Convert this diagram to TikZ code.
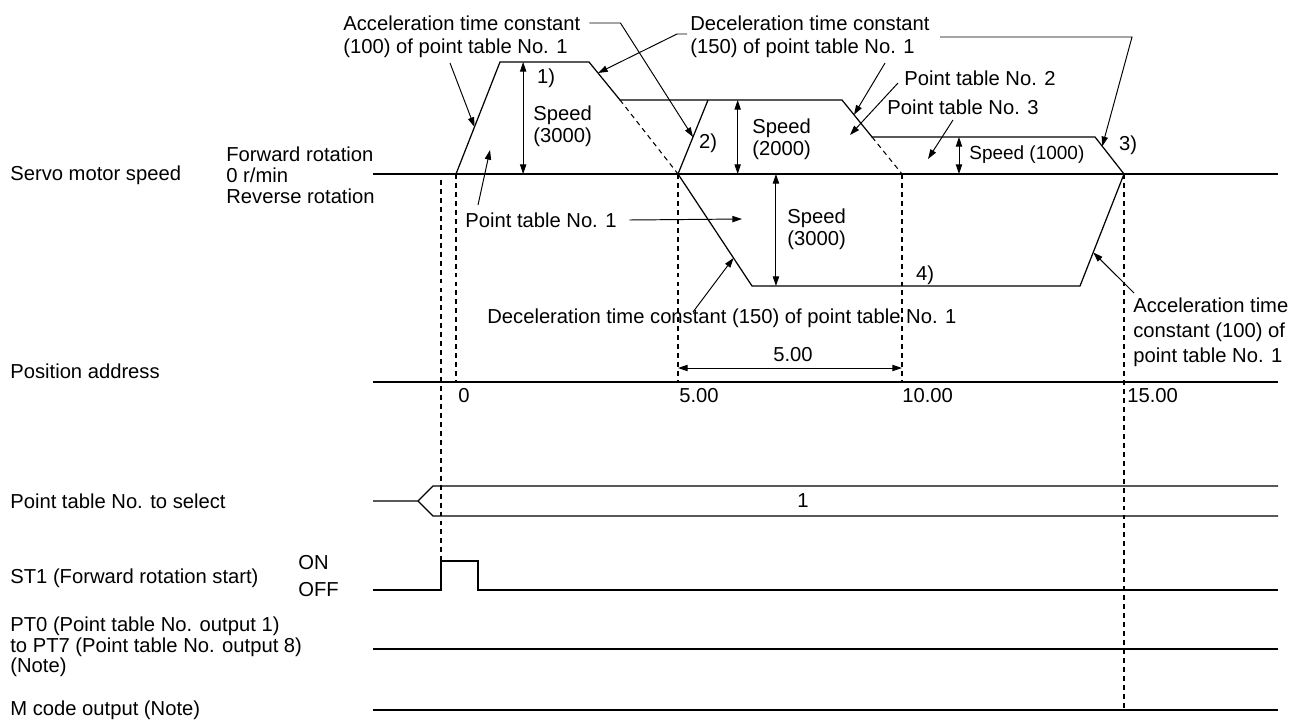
\documentclass[tikz,border=0pt]{standalone}
\usepackage{fontspec}
\setmainfont{Liberation Sans}
\usetikzlibrary{arrows.meta, calc}

\begin{document}
\begin{tikzpicture}[x=0.02cm, y=-0.02cm,
  every node/.style={inner sep=0pt, font=\fontsize{11.5}{14.2}\selectfont},
  wave/.style={line width=0.7pt},
  proj/.style={line width=0.6pt, dash pattern=on 2.8pt off 2.3pt},
  lead/.style={line width=0.55pt, -{Triangle[length=5.5pt, width=3.6pt]}},
  span/.style={line width=0.55pt, {Triangle[length=5.5pt, width=3.6pt]}-{Triangle[length=5.5pt, width=3.6pt]}},
  txt/.style={anchor=west, align=left}]
  \useasboundingbox (0,0) rectangle (1293,720);

  % Servo motor speed
  \coordinate (z0) at (373,174);  \coordinate (z1) at (1278,174);
  \coordinate (a0) at (456,174);  \coordinate (a1) at (500,62);
  \coordinate (a2) at (589,62);   \coordinate (a3) at (620,100);
  \coordinate (b0) at (678,174);  \coordinate (b1) at (708,100);
  \coordinate (c0) at (842,100);  \coordinate (c1) at (872,137);
  \coordinate (c2) at (1095,137); \coordinate (c3) at (1124,174);
  \coordinate (d2) at (902,174);
  \coordinate (r1) at (752,286);  \coordinate (r2) at (1080,286);
  \draw[wave] (z0) -- (z1);
  \draw[wave] (a0) -- (a1) -- (a2) -- (a3) -- (c0) -- (c1) -- (c2) -- (c3);
  \draw[wave] (b0) -- (b1);
  \draw[wave] (b0) -- (r1) -- (r2) -- (c3);
  \draw[proj] (a3) -- (b0);
  \draw[proj] (c1) -- (d2);

  % Position address
  \coordinate (p0) at (373,382); \coordinate (p1) at (1278,382);
  \draw[wave] (p0) -- (p1);

  % Point table No. to select
  \coordinate (q0) at (373,501);  \coordinate (q1) at (418,501);
  \coordinate (q2) at (433,486);  \coordinate (q3) at (1278,486);
  \coordinate (q4) at (433,516);  \coordinate (q5) at (1278,516);
  \draw[wave] (q0) -- (q1) -- (q2) -- (q3);
  \draw[wave] (q1) -- (q4) -- (q5);
  \node (sel) at (803,501) {1};

  % ST1, PT0 to PT7, M code
  \coordinate (s0) at (373,590);  \coordinate (s1) at (441,590);
  \coordinate (s2) at (441,561);  \coordinate (s3) at (478,561);
  \coordinate (s4) at (478,590);  \coordinate (s5) at (1278,590);
  \draw[wave] (s0) -- (s1) -- (s2) -- (s3) -- (s4) -- (s5);
  \coordinate (t0) at (373,649);  \coordinate (t1) at (1278,649);
  \draw[wave] (t0) -- (t1);
  \coordinate (m0) at (373,710);  \coordinate (m1) at (1278,710);
  \draw[wave] (m0) -- (m1);

  % Timing projections
  \coordinate (top) at (0,180);
  \draw[proj] (s2 |- top) -- (s2);
  \draw[proj] (a0) -- (a0 |- p0);
  \draw[proj] (b0) -- (b0 |- p0);
  \draw[proj] (d2) -- (d2 |- p0);
  \draw[proj] (c3) -- (c3 |- m0);

  % Signal names
  \node[txt] (lspd) at (10,175) {Servo motor speed};
  \node[txt, font=\fontsize{11.5}{12}\selectfont] (ldir) at (226,175) {Forward rotation\\0 r/min\\Reverse rotation};
  \node[txt] (lpos) at (10,371) {Position address};
  \node[txt] (lsel) at (10,501) {Point table No. to select};
  \node[txt] (lst) at (10,578) {ST1 (Forward rotation start)};
  \node[txt] (lon) at (298,563) {ON};
  \node[txt] (loff) at (298,590) {OFF};
  \node[txt, font=\fontsize{11.5}{9.9}\selectfont] (lpt) at (10,647) {PT0 (Point table No. output 1)\\to PT7 (Point table No. output 8)\\(Note)};
  \node[txt] (lm) at (10,710) {M code output (Note)};

  % Address values
  \node[txt] (x0) at (458,396) {0};
  \node[txt] (x5) at (679,396) {5.00};
  \node[txt] (x10) at (902,396) {10.00};
  \node[txt] (x15) at (1127,396) {15.00};

  % Notes on the speed pattern
  \node[txt] (acc1a) at (343,23) {Acceleration time constant};
  \node[txt] (acc1b) at (343,48) {(100) of point table No. 1};
  \node[txt] (dec1a) at (690,23) {Deceleration time constant};
  \node[txt] (dec1b) at (690,48) {(150) of point table No. 1};
  \node[txt] (pt2) at (904,78) {Point table No. 2};
  \node[txt] (pt3) at (887,107) {Point table No. 3};
  \node (n1) at (546,78) {1)};
  \node (n2) at (708,143) {2)};
  \node (n3) at (1128,145) {3)};
  \node (n4) at (925,275) {4)};
  \node[txt, font=\fontsize{11.5}{12.5}\selectfont] (sp1) at (533,126) {Speed\\(3000)};
  \node[txt, font=\fontsize{11.5}{12.5}\selectfont] (sp2) at (752,139) {Speed\\(2000)};
  \node[txt, font=\fontsize{10.8}{12}\selectfont] (sp3) at (969,155) {Speed (1000)};
  \node[txt, font=\fontsize{11.5}{12.5}\selectfont] (sp4) at (787,229) {Speed\\(3000)};
  \node[txt] (pt1) at (465,220) {Point table No. 1};
  \node[txt] (dec2) at (487,318) {Deceleration time constant (150) of point table No. 1};
  \node[txt] (acc2) at (1133,332) {Acceleration time\\constant (100) of\\point table No. 1};
  \node (dlen) at (793,355) {5.00};

  % Leader arrows
  \coordinate (tA) at ($(b0)!0.5!(b1)$);
  \coordinate (tB) at ($(a0)!0.42!(a1)$);
  \coordinate (tC) at ($(a2)!0.29!(a3)$);
  \coordinate (tD) at ($(c0)!0.4!(c1)$);
  \coordinate (tE) at ($(c2)!0.25!(c3)$);
  \coordinate (tJ) at ($(b0)!0.75!(r1)$);
  \coordinate (tK) at ($(r2)!0.3!(c3)$);
  \coordinate (fB) at (450,63);
  \coordinate (fC) at (687,34);
  \coordinate (fD) at (885,63);
  \coordinate (fE) at (940,37);
  \coordinate (fF) at (898,83);
  \coordinate (tF) at (850,135);
  \coordinate (fG) at (953,120);
  \coordinate (tG) at (928,159);
  \coordinate (fH) at (478,205);
  \coordinate (tH) at (490,150);
  \coordinate (tI) at (742,219);
  \coordinate (fJ) at (693,312);
  \coordinate (fK) at (1134,293);
  \draw[lead] ([xshift=5pt]acc1a.east) -- ++(31,0) -- (tA);
  \draw[lead] (fB) -- (tB);
  \draw[lead] (fC) -- ++(-10,0) -- (tC);
  \draw[lead] (fD) -- (tD);
  \draw[lead] (fE) -- ++(192,0) -- (tE);
  \draw[lead] (fF) -- (tF);
  \draw[lead] (fG) -- (tG);
  \draw[lead] (fH) -- (tH);
  \draw[lead] ([xshift=7pt]pt1.east) -- (tI);
  \draw[lead] (fJ) -- (tJ);
  \draw[lead] (fK) -- (tK);

  % Speed and distance spans
  \coordinate (h1) at ($(a1)!0.26!(a2)$);
  \coordinate (h2) at ($(a3)!0.53!(c0)$);
  \coordinate (h3) at ($(r1)!0.073!(r2)$);
  \coordinate (h4) at ($(c1)!0.39!(c2)$);
  \coordinate (dl) at (0,368);
  \draw[span] (h1) -- (h1 |- z0);
  \draw[span] (h2) -- (h2 |- z0);
  \draw[span] (h3 |- z0) -- (h3);
  \draw[span] (h4) -- (h4 |- z0);
  \draw[span] (b0 |- dl) -- (d2 |- dl);
\end{tikzpicture}
\end{document}
